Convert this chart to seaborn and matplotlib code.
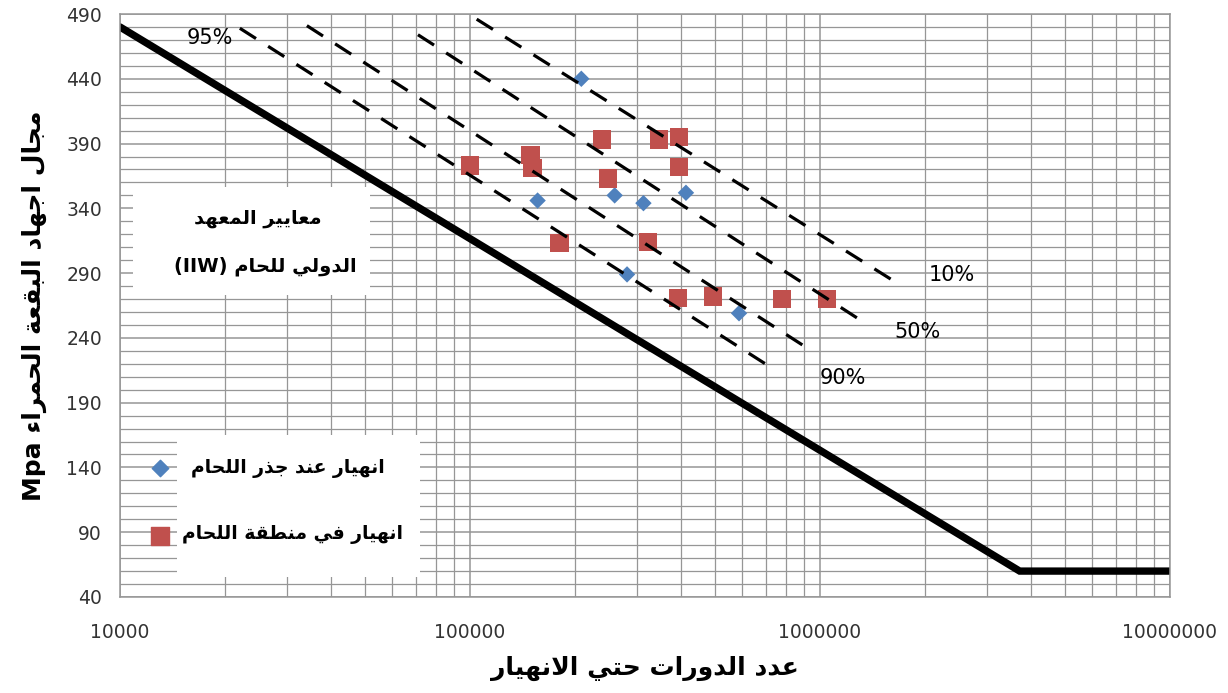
import numpy as np
import pandas as pd
import matplotlib
matplotlib.use("Agg")
import matplotlib.pyplot as plt
import seaborn as sns
from matplotlib.ticker import FixedLocator, MultipleLocator, LogLocator, NullFormatter, FuncFormatter
from matplotlib.patches import Rectangle

# ---- data -------------------------------------------------------------
root_cycles = [2.08e5, 1.56e5, 2.59e5, 3.13e5, 4.14e5, 2.81e5, 5.87e5]
root_stress = [440, 346, 350, 344, 352, 289, 259]

weld_cycles = [1.0e5, 1.49e5, 1.51e5, 2.38e5, 3.47e5, 3.95e5, 3.95e5,
               2.48e5, 1.80e5, 3.22e5, 3.93e5, 4.95e5, 7.80e5, 1.045e6]
weld_stress = [373, 381, 371, 393, 393, 395, 372,
               363, 313, 314, 271, 272, 270, 270]

iiw_cycles = [1e4, 3.72e6, 1e7]
iiw_stress = [480, 60, 60]

band_names = ["10%", "50%", "90%", "95%"]
band_cycles = [[1.045e5, 1.69e6], [7.1e4, 1.30e6], [3.42e4, 9.46e5], [2.2e4, 7.36e5]]
band_stress = [[486, 281], [474, 254], [481, 230], [479, 216]]

y_ticks = [40, 90, 140, 190, 240, 290, 340, 390, 440, 490]
x_ticks = [1e4, 1e5, 1e6, 1e7]

label_root = "انهيار عند جذر اللحام"
label_weld = "انهيار في منطقة اللحام"
x_title = "عدد الدورات حتي الانهيار"
y_title = "مجال اجهاد البقعة الحمراء"
y_unit = "Mpa"
box_line1 = "معايير المعهد"
box_line2 = "الدولي للحام"
box_tag = "(IIW)"

# ---- Arabic shaping (presentation forms + visual order) --------------
_SEQ = [('\u0621', 1), ('\u0622', 2), ('\u0623', 2), ('\u0624', 2), ('\u0625', 2),
        ('\u0626', 4), ('\u0627', 2), ('\u0628', 4), ('\u0629', 2), ('\u062A', 4),
        ('\u062B', 4), ('\u062C', 4), ('\u062D', 4), ('\u062E', 4), ('\u062F', 2),
        ('\u0630', 2), ('\u0631', 2), ('\u0632', 2), ('\u0633', 4), ('\u0634', 4),
        ('\u0635', 4), ('\u0636', 4), ('\u0637', 4), ('\u0638', 4), ('\u0639', 4),
        ('\u063A', 4), ('\u0641', 4), ('\u0642', 4), ('\u0643', 4), ('\u0644', 4),
        ('\u0645', 4), ('\u0646', 4), ('\u0647', 4), ('\u0648', 2), ('\u0649', 2),
        ('\u064A', 4)]
_FORMS = {}
_code = 0xFE80
for _ch, _n in _SEQ:
    forms = [_code + k for k in range(_n)] + [None] * (4 - _n)
    _FORMS[_ch] = tuple(forms)
    _code += _n
_LAM_ALEF = {'\u0622': 0xFEF5, '\u0623': 0xFEF7, '\u0625': 0xFEF9, '\u0627': 0xFEFB}


def arabic(text):
    tokens = []
    i = 0
    while i < len(text):
        c = text[i]
        if c == '\u0644' and i + 1 < len(text) and text[i + 1] in _LAM_ALEF:
            b = _LAM_ALEF[text[i + 1]]
            tokens.append((b, b + 1, None, None))
            i += 2
            continue
        tokens.append(_FORMS.get(c, c))
        i += 1
    out = []
    for k, t in enumerate(tokens):
        if isinstance(t, str):
            out.append(t)
            continue
        prev = tokens[k - 1] if k > 0 else None
        nxt = tokens[k + 1] if k + 1 < len(tokens) else None
        jp = isinstance(prev, tuple) and prev[2] is not None and t[1] is not None
        jn = isinstance(nxt, tuple) and t[2] is not None and nxt[1] is not None
        if jp and jn:
            f = t[3]
        elif jp:
            f = t[1]
        elif jn:
            f = t[2]
        else:
            f = t[0]
        out.append(chr(f))
    return ''.join(reversed(out))


# ---- figure -----------------------------------------------------------
sns.set_theme(style="white")
plt.rcParams['font.family'] = ['DejaVu Sans']

W, H = 1228, 693
fig = plt.figure(figsize=(W / 100, H / 100), dpi=100)
L, R, T, B = 120, 1170, 14, 597
ax = fig.add_axes([L / W, 1 - B / H, (R - L) / W, (B - T) / H])
ax.set_xscale('log')
ax.set_xlim(1e4, 1e7)
ax.set_ylim(40, 490)


def px(x, y):
    """pixel position -> axes fraction"""
    return (x - L) / (R - L), (B - y) / (B - T)


grid_c = '#969696'
ax.yaxis.set_major_locator(FixedLocator(y_ticks))
ax.yaxis.set_minor_locator(MultipleLocator(10))
ax.xaxis.set_major_locator(FixedLocator(x_ticks))
ax.xaxis.set_minor_locator(LogLocator(base=10, subs=np.arange(2, 10)))
ax.xaxis.set_minor_formatter(NullFormatter())
ax.xaxis.set_major_formatter(FuncFormatter(lambda v, p: f"{int(round(v))}"))
ax.grid(which='major', color=grid_c, lw=1.1)
ax.grid(which='minor', color=grid_c, lw=0.9)
ax.set_axisbelow(True)
for s in ax.spines.values():
    s.set_color(grid_c)
    s.set_linewidth(1.1)
ax.tick_params(which='major', length=5, width=1, color=grid_c, labelsize=13.5,
               labelcolor='#333333', direction='out')
ax.tick_params(which='minor', length=0)
ax.tick_params(axis='x', pad=14)
ax.tick_params(axis='y', pad=8)

# white panels (text box and legend area)
ax.add_patch(Rectangle(px(133, 295), (370 - 133) / (R - L), (295 - 187) / (B - T),
                       transform=ax.transAxes, facecolor='white', edgecolor='none', zorder=1.5))
ax.add_patch(Rectangle(px(177, 577), (420 - 177) / (R - L), (577 - 435) / (B - T),
                       transform=ax.transAxes, facecolor='white', edgecolor='none', zorder=1.5))

# IIW design curve
iiw = pd.DataFrame({"N": iiw_cycles, "S": iiw_stress})
sns.lineplot(data=iiw, x="N", y="S", estimator=None, sort=False, color='black',
             lw=5.3, ax=ax, zorder=2, solid_joinstyle='miter')

# test results
pts = pd.DataFrame({
    "N": root_cycles + weld_cycles,
    "S": root_stress + weld_stress,
    "mode": ["root"] * len(root_cycles) + ["weld"] * len(weld_cycles),
})
blue, red = '#4F81BD', '#C0504D'
sns.scatterplot(data=pts, x="N", y="S", hue="mode", style="mode", size="mode",
                palette={"root": blue, "weld": red},
                markers={"root": "D", "weld": "s"},
                sizes={"root": 70, "weld": 175},
                edgecolor='none', legend=False, ax=ax, zorder=3)

# probability-of-survival lines
for name, nc, sc in zip(band_names, band_cycles, band_stress):
    d = pd.DataFrame({"N": nc, "S": sc})
    sns.lineplot(data=d, x="N", y="S", estimator=None, sort=False, color='black',
                 lw=2.3, linestyle=(0, (6, 4.5)), ax=ax, zorder=4)

band_label_px = {"10%": (952, 275), "50%": (918, 332), "90%": (843, 378), "95%": (210, 38)}
for name in band_names:
    ax.text(*px(*band_label_px[name]), name, transform=ax.transAxes, fontsize=15,
            ha='center', va='center', color='black', zorder=5)

# text box contents
ab = dict(transform=ax.transAxes, ha='center', va='center', color='black',
          fontsize=14, fontweight='bold', zorder=5)
ax.text(*px(258, 218), arabic(box_line1), **ab)
ax.text(*px(265, 266), box_tag + " " + arabic(box_line2), **ab)

# legend
ax.scatter(*px(160, 468), transform=ax.transAxes, marker='D', s=70, color=blue,
           zorder=5, clip_on=False)
ax.scatter(*px(160, 536), transform=ax.transAxes, marker='s', s=175, color=red,
           zorder=5, clip_on=False)
lg = dict(transform=ax.transAxes, ha='right', va='center', color='black',
          fontsize=13.5, fontweight='bold', zorder=5)
ax.text(*px(385, 468), arabic(label_root), **lg)
ax.text(*px(403, 534), arabic(label_weld), **lg)

# axis titles
ax.set_xlabel(arabic(x_title), fontsize=18, fontweight='bold', color='black', labelpad=10)
ax.set_ylabel(y_unit + " " + arabic(y_title), fontsize=18, fontweight='bold',
              color='black', labelpad=14)

fig.savefig("out.png", dpi=100)
